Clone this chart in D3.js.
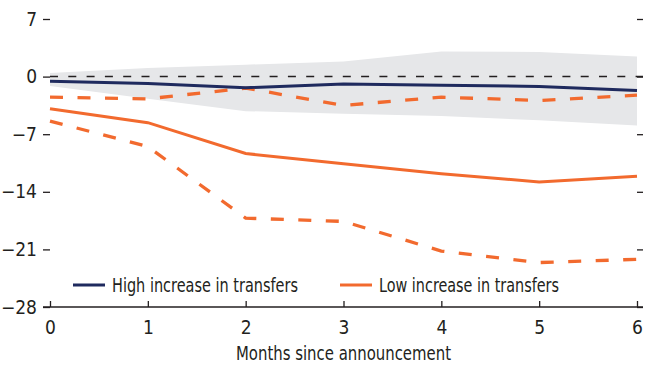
<!DOCTYPE html>
<html>
<head>
<meta charset="utf-8">
<script src="https://cdn.jsdelivr.net/npm/d3@7"></script>
<style>
  html, body { margin: 0; padding: 0; background: #fff; }
  svg text { font-family: "DejaVu Sans Condensed", "Liberation Sans Narrow", sans-serif; fill: #231f20; }
</style>
</head>
<body>
<svg id="chart" width="650" height="367"></svg>
<script>
// Months after the announcement
const months = [0, 1, 2, 3, 4, 5, 6];
// Response for the high-transfer group, with its confidence band
const highIncrease = [-0.55, -0.85, -1.35, -0.9, -1.05, -1.2, -1.7];
const highBandUpper = [0.45, 1.05, 1.45, 1.85, 3.05, 3.0, 2.45];
const highBandLower = [-1.15, -2.7, -4.2, -4.5, -4.8, -5.3, -5.95];
// Response for the low-transfer group, with dashed confidence bounds
const lowIncrease = [-3.9, -5.6, -9.35, -10.6, -11.8, -12.8, -12.1];
const lowUpper = [-2.5, -2.7, -1.4, -3.5, -2.5, -2.9, -2.25];
const lowLower = [-5.4, -8.5, -17.2, -17.6, -21.2, -22.6, -22.2];
// Axis ticks and legend
const yTicks = [7, 0, -7, -14, -21, -28];
const seriesNames = ["High increase in transfers", "Low increase in transfers"];
const xTitle = "Months since announcement";

const navy = "#1f2a5e";
const orange = "#f26a2e";

const svg = d3.select("#chart");
const margin = { left: 50, right: 13, top: 19, bottom: 60 };
const W = 650, H = 367;

const x = d3.scaleLinear().domain([0, 6]).range([margin.left, W - margin.right]);
const y = d3.scaleLinear().domain([-28, 7]).range([H - margin.bottom, margin.top]);

// Confidence band
const area = d3.area()
  .x((d, i) => x(months[i]))
  .y0((d, i) => y(highBandLower[i]))
  .y1((d, i) => y(highBandUpper[i]));
svg.append("path").datum(months).attr("d", area).attr("fill", "#e6e7e9");

// Zero reference line
svg.append("line")
  .attr("x1", x(0)).attr("x2", x(6) + 6)
  .attr("y1", y(0)).attr("y2", y(0))
  .attr("stroke", "#231f20").attr("stroke-width", 1.5)
  .attr("stroke-dasharray", "8,10.3");

const line = arr => d3.line().x((d, i) => x(months[i])).y((d, i) => y(arr[i]))(months);

// Low-transfer bounds (dashed)
[lowUpper, lowLower].forEach(arr => {
  svg.append("path").attr("d", line(arr))
    .attr("fill", "none").attr("stroke", orange).attr("stroke-width", 3.3)
    .attr("stroke-dasharray", "13,14.5");
});
// Point estimates
svg.append("path").attr("d", line(lowIncrease))
  .attr("fill", "none").attr("stroke", orange).attr("stroke-width", 3);
svg.append("path").attr("d", line(highIncrease))
  .attr("fill", "none").attr("stroke", navy).attr("stroke-width", 3);

// Left axis
const yAxis = svg.append("g").attr("transform", `translate(${margin.left},0)`)
  .call(d3.axisLeft(y).tickValues(yTicks).tickSize(7).tickPadding(6)
    .tickFormat(d => d < 0 ? "\u2212" + Math.abs(d) : d));
yAxis.select(".domain").remove();
yAxis.selectAll("line").attr("stroke", "#231f20").attr("stroke-width", 1.3);
yAxis.selectAll("text").style("font-size", "19px").attr("fill", "#231f20");

// Right axis (ticks only)
const yAxisR = svg.append("g").attr("transform", `translate(${x(6)},0)`)
  .call(d3.axisRight(y).tickValues(yTicks).tickSize(6).tickFormat(""));
yAxisR.select(".domain").remove();
yAxisR.selectAll("line").attr("stroke", "#231f20").attr("stroke-width", 1.3);

// Bottom axis
const xAxis = svg.append("g").attr("transform", `translate(0,${y(-28)})`)
  .call(d3.axisBottom(x).tickValues(months).tickSizeInner(-6).tickSizeOuter(0).tickPadding(14)
    .tickFormat(d3.format("d")));
xAxis.select(".domain").remove();
xAxis.selectAll("line").attr("stroke", "#231f20").attr("stroke-width", 1.3);
xAxis.selectAll("text").style("font-size", "19px").attr("fill", "#231f20");
svg.append("line")
  .attr("x1", x(0) - 7).attr("x2", x(6) + 6)
  .attr("y1", y(-28)).attr("y2", y(-28))
  .attr("stroke", "#231f20").attr("stroke-width", 1.5);

// Axis title
svg.append("text")
  .attr("x", (x(0) + x(6)) / 2).attr("y", 360)
  .attr("text-anchor", "middle").style("font-size", "19px")
  .attr("textLength", 215).attr("lengthAdjust", "spacingAndGlyphs")
  .text(xTitle);

// Legend
const legendItems = [
  { name: seriesNames[0], color: navy, lx: 73, w: 186 },
  { name: seriesNames[1], color: orange, lx: 340, w: 180 }
];
const lg = svg.append("g");
legendItems.forEach(item => {
  lg.append("line")
    .attr("x1", item.lx).attr("x2", item.lx + 32)
    .attr("y1", 285).attr("y2", 285)
    .attr("stroke", item.color).attr("stroke-width", 3);
  lg.append("text")
    .attr("x", item.lx + 39).attr("y", 292)
    .style("font-size", "19px")
    .attr("textLength", item.w).attr("lengthAdjust", "spacingAndGlyphs")
    .text(item.name);
});
</script>
</body>
</html>
